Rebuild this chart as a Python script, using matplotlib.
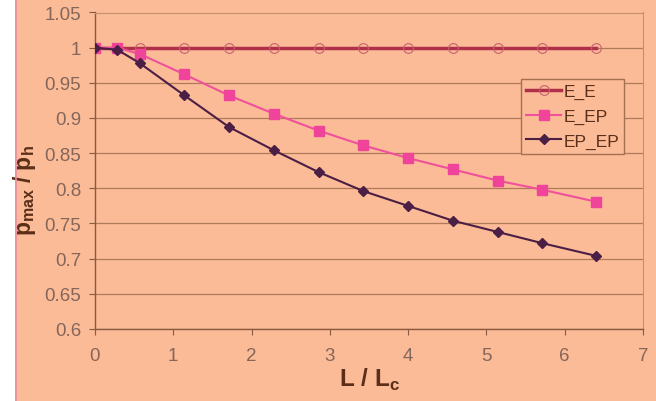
import matplotlib.pyplot as plt
from matplotlib.patches import Rectangle
from matplotlib.lines import Line2D

plt.rcParams['font.family'] = ['Liberation Sans', 'DejaVu Sans']
plt.rcParams['mathtext.fontset'] = 'custom'
plt.rcParams['mathtext.rm'] = 'Liberation Sans'
plt.rcParams['mathtext.bf'] = 'Liberation Sans:bold'

# values
x_ratio = [0, 0.286, 0.571, 1.143, 1.714, 2.286, 2.857, 3.429, 4.0, 4.571, 5.143, 5.714, 6.4]
e_e = [1.0] * 13
e_ep = [1.0, 1.0, 0.991, 0.962, 0.932, 0.906, 0.882, 0.861, 0.843, 0.827, 0.811, 0.798, 0.781]
ep_ep = [1.0, 0.997, 0.978, 0.932, 0.887, 0.854, 0.823, 0.796, 0.775, 0.754, 0.738, 0.722, 0.704]

BG = "#FBBB97"
GRID = "#B07A58"
TXT = "#85665A"

fig = plt.figure(figsize=(6.56, 4.02), dpi=100)
fig.patch.set_facecolor(BG)
# white strip on the left edge with a pink border line
fig.add_artist(Rectangle((0, 0), 15 / 656, 1, transform=fig.transFigure,
                         facecolor="white", edgecolor="none", zorder=0))
fig.add_artist(Line2D([15.5 / 656, 15.5 / 656], [0, 1], transform=fig.transFigure,
                      color="#F08CA0", linewidth=1.2))

ax = fig.add_axes([95 / 656, 72 / 402, 548 / 656, 316.5 / 402])
ax.set_facecolor(BG)

ax.plot(x_ratio, e_e, color="#B0304A", linewidth=2.5, marker="o", markersize=7,
        markerfacecolor="none", markeredgecolor="#C86070", markeredgewidth=0.8,
        label="E_E", zorder=3)
ax.plot(x_ratio, e_ep, color="#F0509C", linewidth=1.5, marker="s", markersize=6.5,
        markerfacecolor="#F0449A", markeredgecolor="#F0449A", label="E_EP", zorder=4)
ax.plot(x_ratio, ep_ep, color="#4B1E45", linewidth=1.5, marker="D", markersize=5.5,
        markerfacecolor="#4B1E45", markeredgecolor="#4B1E45", label="EP_EP", zorder=5)

ax.set_xlim(0, 7)
ax.set_ylim(0.6, 1.05)
ax.set_xticks(range(0, 8))
ax.set_yticks([0.6, 0.65, 0.7, 0.75, 0.8, 0.85, 0.9, 0.95, 1.0, 1.05])
ax.set_yticklabels(["0.6", "0.65", "0.7", "0.75", "0.8", "0.85", "0.9", "0.95", "1", "1.05"])
ax.grid(axis="y", color=GRID, linewidth=0.9)
ax.set_axisbelow(True)

for side in ["left", "bottom"]:
    ax.spines[side].set_color("#8A5A40")
    ax.spines[side].set_linewidth(1.0)
for side in ["top", "right"]:
    ax.spines[side].set_color("#C49070")
    ax.spines[side].set_linewidth(0.8)

ax.tick_params(axis="both", colors="#8A5A40", labelcolor=TXT, labelsize=13.5, length=4)
ax.tick_params(axis="y", pad=6)
ax.tick_params(axis="x", pad=9)

ax.set_xlabel("L / L$_\\mathregular{c}$", fontsize=17.5, fontweight="bold", color="#5A2E18", labelpad=1)
ax.set_ylabel("p$_\\mathregular{max}$ / p$_\\mathregular{h}$", fontsize=16.5, fontweight="bold",
              color="#5A2E18")
ax.yaxis.set_label_coords(-0.104, 0.44)

leg = ax.legend(loc="upper left", bbox_to_anchor=(426 / 548, 1 - 66 / 316.5),
                frameon=True, fancybox=False, fontsize=12.5, handlelength=2.0,
                borderpad=0.3, labelspacing=0.55, handletextpad=0.15, borderaxespad=0)
leg.get_frame().set_facecolor(BG)
leg.get_frame().set_edgecolor("#A5704F")
leg.get_frame().set_alpha(1)
for t in leg.get_texts():
    t.set_color("#5A2E18")

plt.savefig("out.png", dpi=100, facecolor=fig.get_facecolor())
